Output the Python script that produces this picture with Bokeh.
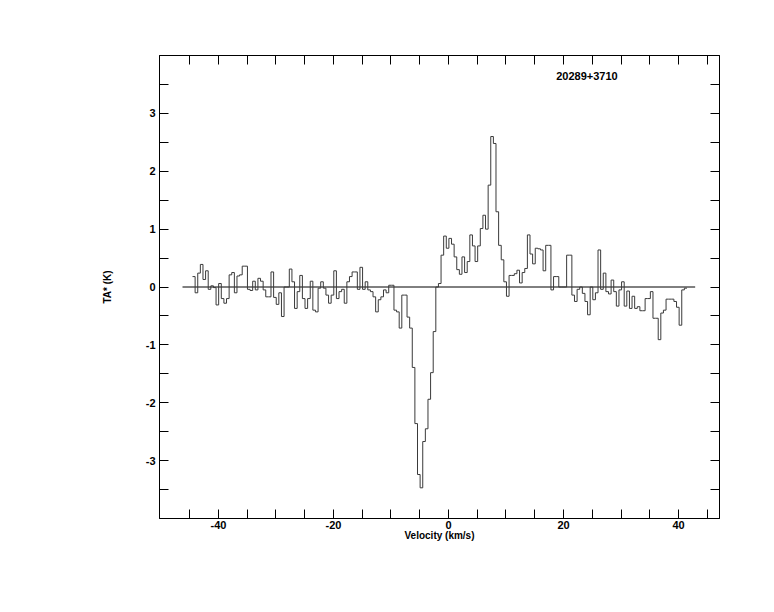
import numpy as np
from bokeh.plotting import figure
from bokeh.models import LinearAxis, FixedTicker, Range1d, Label
from bokeh.embed import file_html
from bokeh.resources import INLINE

# ---------------- data ----------------
SOURCE_NAME = "20289+3710"
V_START = -44.52      # left edge of first channel (km/s)
DV = 0.455            # channel width (km/s)
TA = [
    0.18, -0.10, 0.24, 0.39, 0.13, 0.28, -0.04, 0.02, -0.01, -0.31,
    0.06, -0.20, -0.28, -0.20, 0.21, 0.25, -0.10, 0.19, 0.21, 0.36,
    0.36, -0.04, -0.06, 0.10, -0.05, 0.15, 0.10, -0.05, -0.17, -0.17,
    0.26, -0.18, -0.30, -0.10, -0.51, 0.00, 0.00, 0.31, 0.09, -0.37,
    -0.08, 0.20, -0.20, -0.37, -0.20, 0.10, -0.40, -0.43, -0.02, 0.09,
    -0.02, -0.14, -0.28, -0.14, 0.28, -0.20, -0.08, -0.04, -0.28, 0.09,
    0.18, 0.26, 0.26, -0.04, 0.34, -0.04, 0.09, -0.05, -0.08, -0.17,
    -0.43, -0.22, -0.17, -0.05, -0.10, 0.03, 0.03, -0.40, -0.43, -0.71,
    -0.14, -0.14, -0.52, -0.71, -1.39, -2.36, -3.24, -3.47, -2.67, -2.45,
    -1.94, -1.48, -0.77, 0.00, 0.06, 0.55, 0.88, 0.67, 0.84, 0.74,
    0.52, 0.30, 0.22, 0.52, 0.25, 0.44, 0.90, 0.71, 0.44, 0.71,
    1.01, 1.24, 1.00, 1.76, 2.60, 2.48, 1.30, 0.72, 0.47, 0.09,
    -0.16, 0.20, 0.20, 0.23, 0.29, 0.07, 0.25, 0.32, 0.90, 0.57,
    0.40, 0.67, 0.66, 0.64, 0.28, 0.72, 0.72, -0.05, 0.18, 0.18,
    0.00, 0.00, 0.00, 0.55, 0.55, -0.14, -0.25, -0.04, 0.00, -0.11,
    -0.25, -0.48, 0.00, -0.22, -0.10, 0.64, -0.04, 0.24, -0.08, -0.12,
    0.12, -0.08, -0.33, -0.05, 0.09, -0.33, -0.07, -0.37, -0.16, -0.37,
    -0.34, -0.41, -0.41, -0.20, -0.20, -0.08, -0.54, -0.54, -0.91, -0.45,
    -0.40, -0.21, -0.21, -0.21, -0.25, -0.35, -0.66, -0.05, -0.02,
]
BASELINE_V = [-46.26, 42.9]
BASELINE_T = [0.0, 0.0]
X_MAJOR = [-40, -20, 0, 20, 40]
X_MINOR = [-45, -35, -30, -25, -15, -10, -5, 5, 10, 15, 25, 30, 35, 45]
Y_MAJOR = [-3, -2, -1, 0, 1, 2, 3]
Y_MINOR = [-3.5, -2.5, -1.5, -0.5, 0.5, 1.5, 2.5, 3.5]
X_LABEL = "Velocity (km/s)"
Y_LABEL = "TA* (K)"

# ---------------- figure ----------------
FONT = "Liberation Sans"

p = figure(width=758, height=596,
           x_range=Range1d(-50.26, 47.13), y_range=Range1d(-4.0, 4.0),
           output_backend="svg", toolbar_location=None,
           min_border_left=159, min_border_right=39,
           min_border_top=55, min_border_bottom=78,
           x_axis_location=None, y_axis_location=None)
p.xgrid.visible = False
p.ygrid.visible = False
p.outline_line_color = "black"
p.outline_line_width = 1
p.background_fill_color = "white"
p.border_fill_color = "white"


def tick_text(t):
    s = ("%g" % t)
    return s.replace("\u2212", "-")


def style_axis(ax, ticker, labels):
    ax.ticker = ticker
    ax.major_tick_in = 9
    ax.major_tick_out = 0
    ax.minor_tick_in = 9
    ax.minor_tick_out = 0
    ax.axis_line_color = "black"
    ax.major_tick_line_color = "black"
    ax.minor_tick_line_color = "black"
    ax.major_label_text_font = FONT
    ax.major_label_text_font_style = "bold"
    ax.major_label_text_font_size = "11px"
    ax.major_label_text_color = "black"
    ax.major_label_standoff = 4
    ax.axis_label_text_font = FONT
    ax.axis_label_text_font_style = "bold"
    ax.axis_label_text_font_size = "10px"
    ax.axis_label_text_color = "black"
    if labels:
        ax.major_label_overrides = {t: tick_text(t) for t in ticker.ticks}
    else:
        ax.major_label_overrides = {t: "" for t in ticker.ticks}


xt = FixedTicker(ticks=X_MAJOR, minor_ticks=X_MINOR)
yt = FixedTicker(ticks=Y_MAJOR, minor_ticks=Y_MINOR)

xb = LinearAxis(axis_label=X_LABEL)
style_axis(xb, xt, True)
xb.major_label_standoff = 2
xb.axis_label_standoff = -2
p.add_layout(xb, "below")

xa = LinearAxis()
style_axis(xa, FixedTicker(ticks=X_MAJOR, minor_ticks=X_MINOR), False)
p.add_layout(xa, "above")

yl = LinearAxis(axis_label=Y_LABEL)
style_axis(yl, yt, True)
yl.axis_label_standoff = 30
p.add_layout(yl, "left")

yr = LinearAxis()
style_axis(yr, FixedTicker(ticks=Y_MAJOR, minor_ticks=Y_MINOR), False)
p.add_layout(yr, "right")

# baseline
p.line(BASELINE_V, BASELINE_T, line_color="black", line_width=1)

# spectrum as histogram
ta = np.array(TA)
edges = V_START + DV * np.arange(len(ta) + 1)
ys = np.append(ta, ta[-1])
p.step(edges, ys, mode="after", line_color="#3a3a3a", line_width=1)

# source name
p.add_layout(Label(x=18.73, y=3.64, text=SOURCE_NAME,
                   text_font=FONT, text_font_style="bold",
                   text_font_size="11px", text_color="black",
                   text_baseline="middle", text_align="left"))

open("out.html", "w").write(file_html(p, INLINE))
